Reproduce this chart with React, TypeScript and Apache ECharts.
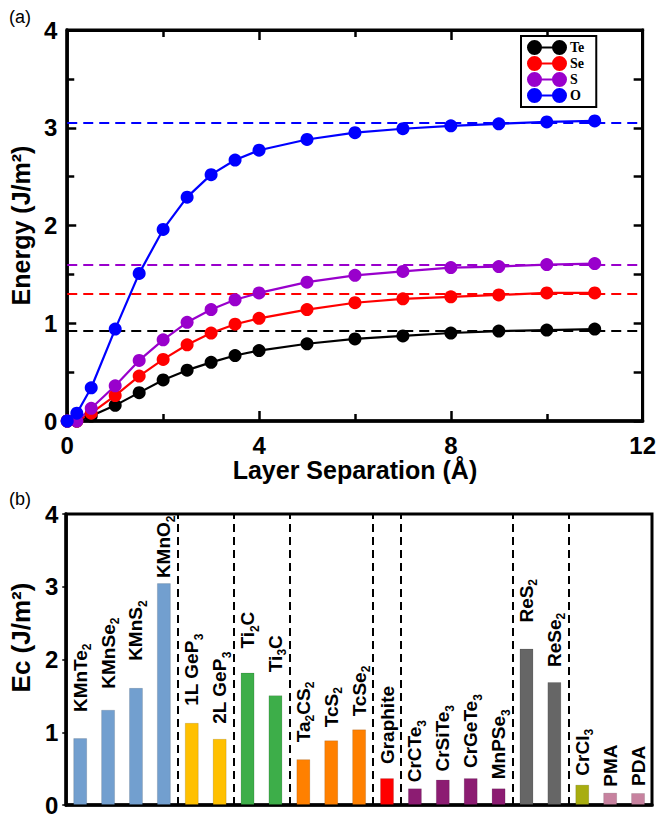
import React, { useEffect, useRef } from "react";
import * as echarts from "echarts";

// ---------- Panel (a): energy vs layer separation ----------
const separation = [0, 0.2, 0.5, 1, 1.5, 2, 2.5, 3, 3.5, 4, 5, 6, 7, 8, 9, 10, 11];
const seriesNames = ["Te", "Se", "S", "O"];
const teValues = [0, 0, 0.05, 0.16, 0.29, 0.42, 0.52, 0.6, 0.67, 0.72, 0.79, 0.84, 0.87, 0.9, 0.92, 0.93, 0.94];
const seValues = [0, 0, 0.08, 0.26, 0.46, 0.63, 0.78, 0.9, 0.99, 1.05, 1.14, 1.21, 1.25, 1.27, 1.29, 1.31, 1.31];
const sValues = [0, 0, 0.13, 0.36, 0.62, 0.83, 1.01, 1.14, 1.24, 1.31, 1.42, 1.49, 1.53, 1.57, 1.58, 1.6, 1.61];
const oValues = [0, 0.08, 0.34, 0.94, 1.51, 1.96, 2.29, 2.52, 2.67, 2.77, 2.88, 2.95, 2.99, 3.02, 3.04, 3.06, 3.07];
const cleavageLimits = [0.92, 1.3, 1.6, 3.05];
const xTicksA = [0, 4, 8, 12];
const yTicksA = [0, 1, 2, 3, 4];

// ---------- Panel (b): cleavage energy per material ----------
const materials = [
  "KMnTe2", "KMnSe2", "KMnS2", "KMnO2",
  "1L GeP3", "2L GeP3",
  "Ti2C", "Ti3C",
  "Ta2CS2", "TcS2", "TcSe2",
  "Graphite",
  "CrCTe3", "CrSiTe3", "CrGeTe3", "MnPSe3",
  "ReS2", "ReSe2",
  "CrCl3", "PMA", "PDA",
];
const ecValues = [
  0.92, 1.31, 1.61, 3.05,
  1.13, 0.91,
  1.82, 1.51,
  0.63, 0.89, 1.04,
  0.37,
  0.23, 0.35, 0.37, 0.23,
  2.15, 1.69,
  0.28, 0.17, 0.165,
];
const groupSizes = [4, 2, 2, 3, 1, 4, 2, 3];
const yTicksB = [0, 1, 2, 3, 4];

// ---------- styles ----------
const lineColors = ["#000000", "#ff0000", "#9900cc", "#0000ff"];
const groupColors = ["#729fcf", "#ffc000", "#3dae49", "#ff8000", "#ff0000", "#8c1c72", "#666666", "#a8ad10", "#c7829f"];
const labelGaps = [26, 21, 27, 5, 17, 15, 24, 23, 17, 13, 13, 14, 6, 8, 10, 9, 26, 15, 9, 6, 7];
const FONT = "'Liberation Sans', Arial, sans-serif";

const legendIcon =
  "path://M7.5,0A7.5,7.5,0,1,1,7.5,15A7.5,7.5,0,1,1,7.5,0ZM32.5,0A7.5,7.5,0,1,1,32.5,15A7.5,7.5,0,1,1,32.5,0ZM7.5,6.4L32.5,6.4L32.5,8.6L7.5,8.6Z";

function toRich(name: string): string {
  return name.replace(/([A-Za-z])(\d+)/g, "$1{sub|$2}");
}

export default function App() {
  const ref = useRef<HTMLDivElement>(null);

  useEffect(() => {
    if (!ref.current) return;
    const chart = echarts.init(ref.current, null, { renderer: "svg" });

    const valuesA = [teValues, seValues, sValues, oValues];

    const lineSeries = seriesNames.map((name, i) => ({
      name,
      type: "line",
      xAxisIndex: 0,
      yAxisIndex: 0,
      data: separation.map((x, j) => [x, valuesA[i][j]]),
      symbol: "circle",
      symbolSize: 13,
      itemStyle: { color: lineColors[i] },
      lineStyle: { color: lineColors[i], width: 2.2 },
      z: 3,
      markLine: {
        silent: true,
        symbol: "none",
        label: { show: false },
        lineStyle: { color: lineColors[i], type: [10, 6], width: 2 },
        data: [{ yAxis: cleavageLimits[i] }],
        z: 2,
      },
    }));

    const groupOf: number[] = [];
    groupSizes.forEach((n, g) => {
      for (let k = 0; k < n; k++) groupOf.push(g);
    });
    const barData = ecValues.map((v, i) => {
      const g = groupOf[i];
      let c = groupColors[g];
      if (g === 7) c = i === materials.indexOf("CrCl3") ? groupColors[7] : groupColors[8];
      return {
        value: v,
        itemStyle: { color: c },
        label: { distance: labelGaps[i] },
      };
    });

    const boundaries: number[] = [];
    let acc = 0;
    groupSizes.slice(0, -1).forEach((n) => {
      acc += n;
      boundaries.push(acc);
    });

    const axisTitle = { fontFamily: FONT, fontWeight: "bold", fontSize: 25, color: "#000" };
    const tickLabel = { fontFamily: FONT, fontWeight: "bold", fontSize: 24, color: "#000" };

    chart.setOption({
      animation: false,
      backgroundColor: "#ffffff",
      graphic: [
        { type: "text", left: 9, top: 8, style: { text: "(a)", font: `18px ${FONT}`, fill: "#000" } },
        { type: "text", left: 9, top: 490, style: { text: "(b)", font: `18px ${FONT}`, fill: "#000" } },
      ],
      legend: {
        data: seriesNames.map((n) => ({ name: n, icon: legendIcon })),
        orient: "vertical",
        left: 521,
        top: 36,
        itemWidth: 40,
        itemHeight: 15,
        itemGap: 1,
        padding: [4, 12, 4, 6],
        borderColor: "#000",
        borderWidth: 2,
        backgroundColor: "#fff",
        selectedMode: false,
        textStyle: { fontFamily: "'Liberation Serif', serif", fontWeight: "bold", fontSize: 14, color: "#000", padding: [0, 0, 0, -2] },
      },
      grid: [
        { left: 63, top: 30, width: 589, height: 391, show: true, borderColor: "#000", borderWidth: 3, backgroundColor: "transparent" },
        { left: 63, top: 514, width: 589, height: 292, show: true, borderColor: "#000", borderWidth: 3, backgroundColor: "transparent" },
      ],
      xAxis: [
        {
          type: "value",
          gridIndex: 0,
          min: xTicksA[0],
          max: xTicksA[xTicksA.length - 1],
          interval: xTicksA[1] - xTicksA[0],
          position: "bottom",
          axisLine: { show: true, onZero: false, lineStyle: { color: "#000", width: 3.5 } },
          axisTick: { show: true, inside: true, length: 10, lineStyle: { color: "#000", width: 2.5 } },
          minorTick: { show: true, splitNumber: 2, length: 7, lineStyle: { color: "#000", width: 2.5 } },
          splitLine: { show: false },
          axisLabel: { ...tickLabel, margin: 12 },
          name: "Layer Separation (Å)",
          nameLocation: "middle",
          nameGap: 36,
          nameTextStyle: axisTitle,
        },
        {
          type: "value",
          gridIndex: 0,
          min: xTicksA[0],
          max: xTicksA[xTicksA.length - 1],
          interval: xTicksA[1] - xTicksA[0],
          position: "top",
          axisLine: { show: true, onZero: false, lineStyle: { color: "#000", width: 3 } },
          axisTick: { show: true, inside: true, length: 10, lineStyle: { color: "#000", width: 2.5 } },
          minorTick: { show: true, splitNumber: 2, length: 7, lineStyle: { color: "#000", width: 2.5 } },
          splitLine: { show: false },
          axisLabel: { show: false },
        },
        {
          type: "category",
          gridIndex: 1,
          data: materials,
          boundaryGap: true,
          axisLine: { show: true, lineStyle: { color: "#000", width: 3.5 } },
          axisTick: { show: false },
          axisLabel: { show: false },
          splitLine: { show: false },
        },
        {
          type: "value",
          gridIndex: 1,
          min: 0,
          max: materials.length,
          show: false,
          splitLine: { show: false },
        },
      ],
      yAxis: [
        {
          type: "value",
          gridIndex: 0,
          min: yTicksA[0],
          max: yTicksA[yTicksA.length - 1],
          interval: 1,
          axisLine: { show: true, onZero: false, lineStyle: { color: "#000", width: 3.5 } },
          axisTick: { show: true, inside: true, length: 9, lineStyle: { color: "#000", width: 2.5 } },
          minorTick: { show: true, splitNumber: 2, length: 7, lineStyle: { color: "#000", width: 2.5 } },
          splitLine: { show: false },
          axisLabel: { ...tickLabel, margin: 10 },
          name: "Energy (J/m²)",
          nameLocation: "middle",
          nameGap: 30,
          nameTextStyle: axisTitle,
        },
        {
          type: "value",
          gridIndex: 0,
          min: yTicksA[0],
          max: yTicksA[yTicksA.length - 1],
          interval: 1,
          position: "right",
          axisLine: { show: true, onZero: false, lineStyle: { color: "#000", width: 3 } },
          axisTick: { show: true, inside: true, length: 9, lineStyle: { color: "#000", width: 2.5 } },
          minorTick: { show: true, splitNumber: 2, length: 9, lineStyle: { color: "#000", width: 2.5 } },
          splitLine: { show: false },
          axisLabel: { show: false },
        },
        {
          type: "value",
          gridIndex: 1,
          min: yTicksB[0],
          max: yTicksB[yTicksB.length - 1],
          interval: 1,
          axisLine: { show: true, lineStyle: { color: "#000", width: 3.5 } },
          axisTick: { show: true, inside: false, length: 4, lineStyle: { color: "#000", width: 1.5 } },
          splitLine: { show: false },
          axisLabel: { ...tickLabel, margin: 8 },
          name: "Ec (J/m²)",
          nameLocation: "middle",
          nameGap: 30,
          nameTextStyle: { ...axisTitle, fontSize: 26, padding: [0, 0, 0, 44] },
        },
      ],
      series: [
        ...lineSeries,
        {
          name: "Ec",
          type: "bar",
          xAxisIndex: 2,
          yAxisIndex: 2,
          barWidth: 14,
          data: barData,
          itemStyle: { borderColor: "rgba(0,0,0,0.12)", borderWidth: 1 },
          label: {
            show: true,
            position: "top",
            rotate: 90,
            align: "left",
            verticalAlign: "middle",
            fontFamily: FONT,
            fontWeight: "bold",
            fontSize: 19,
            lineHeight: 26,
            color: "#000",
            formatter: (p: any) => toRich(p.name),
            rich: {
              sub: { fontFamily: FONT, fontWeight: "bold", fontSize: 12, lineHeight: 12, verticalAlign: "bottom", color: "#000" },
            },
          },
          z: 3,
        },
        {
          name: "separators",
          type: "line",
          xAxisIndex: 3,
          yAxisIndex: 2,
          data: [[0, 0]],
          symbol: "none",
          showSymbol: false,
          lineStyle: { opacity: 0 },
          silent: true,
          markLine: {
            silent: true,
            symbol: "none",
            label: { show: false },
            lineStyle: { color: "#000", type: [8, 5], width: 2 },
            data: boundaries.map((b) => ({ xAxis: b })),
          },
          z: 4,
        },
      ],
    });

    return () => chart.dispose();
  }, []);

  return (
    <div
      ref={ref}
      style={{ position: "fixed", left: 0, top: 0, width: 659, height: 817, background: "#fff" }}
    />
  );
}
